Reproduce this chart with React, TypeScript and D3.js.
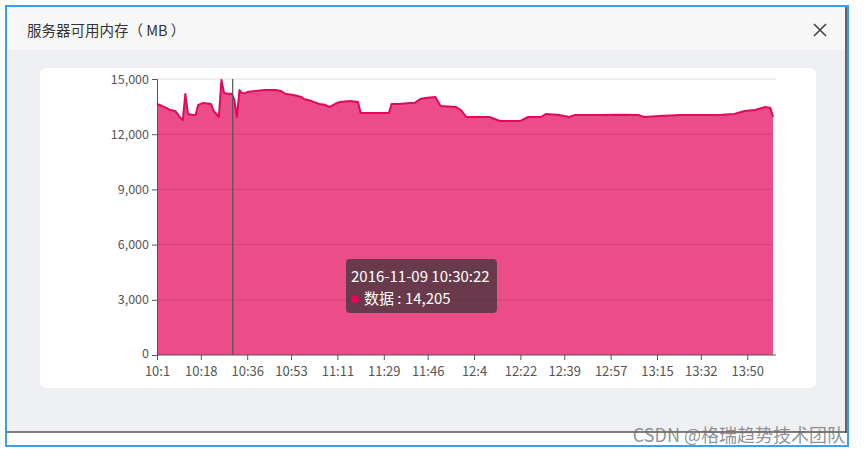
import React, { useEffect, useRef } from 'react';
import * as d3 from 'd3';

// sample times (HH:MM) and free memory values (MB)
const times: string[] = [
    '10:01', '10:03', '10:05', '10:06', '10:08', '10:09', '10:10', '10:11', '10:12', '10:13',
    '10:15', '10:16', '10:17', '10:19', '10:22', '10:23', '10:25', '10:26', '10:27', '10:29',
    '10:30', '10:31', '10:32', '10:33', '10:34', '10:35', '10:36', '10:39', '10:43', '10:47',
    '10:49', '10:51', '10:54', '10:57', '10:58', '11:01', '11:04', '11:06', '11:08', '11:10',
    '11:12', '11:16', '11:19', '11:20', '11:26', '11:31', '11:32', '11:35', '11:39', '11:41',
    '11:43', '11:45', '11:49', '11:51', '11:57', '11:59', '12:01', '12:04', '12:10', '12:14',
    '12:22', '12:25', '12:30', '12:32', '12:37', '12:41', '12:43', '12:53', '13:01', '13:08',
    '13:10', '13:16', '13:24', '13:32', '13:40', '13:45', '13:49', '13:53', '13:57', '13:59',
    '14:00'
];
const values: number[] = [
    13640, 13530, 13400, 13315, 13260, 13100, 12900, 12770, 14185, 13100,
    13040, 13060, 13590, 13700, 13640, 13260, 12935, 14950, 14240, 14185,
    14205, 13860, 12935, 14400, 14240, 14220, 14290, 14350, 14400, 14400,
    14350, 14185, 14130, 14020, 13910, 13800, 13640, 13600, 13480, 13640,
    13750, 13800, 13750, 13150, 13150, 13150, 13640, 13640, 13700, 13700,
    13900, 13970, 14020, 13530, 13480, 13300, 12935, 12935, 12935, 12720,
    12720, 12935, 12935, 13100, 13040, 12935, 13040, 13040, 13060, 13040,
    12935, 12990, 13040, 13040, 13060, 13100, 13260, 13315, 13480, 13420,
    12935
];

const xTickLabels: string[] = [
    '10:1', '10:18', '10:36', '10:53', '11:11', '11:29', '11:46',
    '12:4', '12:22', '12:39', '12:57', '13:15', '13:32', '13:50'
];
const yTicks: number[] = [0, 3000, 6000, 9000, 12000, 15000];

const toMin = (s: string) => {
    const [h, m] = s.split(':').map(Number);
    return h * 60 + m;
};

const font = '"Noto Sans CJK SC", "Noto Sans", sans-serif';

export default function App() {
    const ref = useRef<SVGSVGElement>(null);

    useEffect(() => {
        const svg = d3.select(ref.current);
        svg.selectAll('*').remove();

        const width = 865;
        const height = 452;
        const marginLeft = 157;
        const plotRight = 773;
        const plotTop = 79;
        const plotBottom = 355;

        // dialog frame
        svg.append('rect').attr('x', 0).attr('y', 0).attr('width', width).attr('height', height).attr('fill', '#fff');
        svg.append('rect').attr('x', 6).attr('y', 6).attr('width', 842).attr('height', 440)
            .attr('fill', '#fff').attr('stroke', '#3d9cf0').attr('stroke-width', 2);
        svg.append('rect').attr('x', 7).attr('y', 7).attr('width', 839).attr('height', 44).attr('fill', '#f7f7f7');
        svg.append('rect').attr('x', 7).attr('y', 50).attr('width', 839).attr('height', 382).attr('fill', '#eef0f3');
        svg.append('line').attr('x1', 7).attr('x2', 846).attr('y1', 432).attr('y2', 432)
            .attr('stroke', '#555').attr('stroke-width', 1.5);
        svg.append('line').attr('x1', 846).attr('x2', 846).attr('y1', 7).attr('y2', 433)
            .attr('stroke', '#333').attr('stroke-width', 1.5);

        svg.append('text').attr('x', 27).attr('y', 36).attr('font-size', 14.5).attr('fill', '#333')
            .attr('font-family', font).text('服务器可用内存（ MB ）');
        svg.append('path').attr('d', 'M814,24L826,36M826,24L814,36').attr('stroke', '#444').attr('stroke-width', 1.6);

        // white card
        svg.append('rect').attr('x', 40).attr('y', 68).attr('width', 776).attr('height', 320)
            .attr('rx', 6).attr('fill', '#fff');

        const x = d3.scaleLinear().domain([toMin('10:01'), toMin('14:00')]).range([marginLeft, plotRight]);
        const y = d3.scaleLinear().domain([0, 15000]).range([plotBottom, plotTop]);

        const data = times.map((t, i) => ({ t: toMin(t), v: values[i] }));

        // top gridline (above the area)
        svg.append('line').attr('x1', marginLeft).attr('x2', plotRight + 3).attr('y1', y(15000)).attr('y2', y(15000))
            .attr('stroke', '#ddd');

        const area = d3.area<{ t: number; v: number }>().x((d) => x(d.t)).y0(y(0)).y1((d) => y(d.v));
        const line = d3.line<{ t: number; v: number }>().x((d) => x(d.t)).y((d) => y(d.v));

        svg.append('path').datum(data).attr('d', area).attr('fill', '#ec4d89');
        svg.append('path').datum(data).attr('d', line).attr('fill', 'none')
            .attr('stroke', '#e2085c').attr('stroke-width', 2).attr('stroke-linejoin', 'round');

        // gridlines over the area
        svg.append('g').selectAll('line').data(yTicks.filter((d) => d > 0 && d < 15000)).join('line')
            .attr('x1', marginLeft).attr('x2', plotRight)
            .attr('y1', (d) => y(d)).attr('y2', (d) => y(d))
            .attr('stroke', 'rgba(90,20,50,0.18)');

        // y axis
        svg.append('g').attr('transform', `translate(${marginLeft},0)`)
            .call(d3.axisLeft(y).tickValues(yTicks).tickSize(5).tickPadding(3).tickFormat((d) => d3.format(',')(d as number)))
            .call((g) => g.select('.domain').attr('stroke', '#555'))
            .call((g) => g.selectAll('.tick line').attr('stroke', '#555'))
            .call((g) => g.selectAll('.tick text').attr('fill', '#555').attr('font-size', 12.5).attr('font-family', font))
            .call((g) => g.selectAll<SVGTextElement, number>('.tick text').filter((d) => d === 0).attr('dy', '0.2em'));

        // x axis
        const tickPos = xTickLabels.map((s) => toMin(s));
        svg.append('g').attr('transform', `translate(0,${plotBottom})`)
            .call(d3.axisBottom(x).tickValues(tickPos).tickSize(5).tickPadding(7)
                .tickFormat((_d, i) => xTickLabels[i]))
            .call((g) => g.select('.domain').attr('stroke', '#555').attr('d', `M${marginLeft},0H${plotRight + 3}`))
            .call((g) => g.selectAll('.tick line').attr('stroke', '#555'))
            .call((g) => g.selectAll('.tick text').attr('fill', '#555').attr('font-size', 13).attr('font-family', font));

        // hover pointer line
        const hoverT = toMin('10:30') + 22 / 60;
        svg.append('line').attr('x1', x(hoverT)).attr('x2', x(hoverT)).attr('y1', plotTop).attr('y2', plotBottom)
            .attr('stroke', '#555').attr('stroke-width', 1.2);

        // tooltip
        const tip = svg.append('g').attr('transform', 'translate(346,259)');
        tip.append('rect').attr('width', 151).attr('height', 54).attr('rx', 4).attr('fill', 'rgba(50,50,50,0.7)');
        tip.append('text').attr('x', 5).attr('y', 23).attr('fill', '#fff').attr('font-size', 15)
            .attr('font-family', font).text('2016-11-09 10:30:22');
        tip.append('circle').attr('cx', 9).attr('cy', 40).attr('r', 4).attr('fill', '#e2085c');
        tip.append('text').attr('x', 18).attr('y', 45).attr('fill', '#fff').attr('font-size', 15)
            .attr('font-family', font).text('数据 : 14,205');

        // watermark
        svg.append('text').attr('x', 845).attr('y', 442).attr('text-anchor', 'end').attr('font-size', 18)
            .attr('fill', 'rgba(110,110,110,0.75)').attr('font-family', font).text('CSDN @格瑞趋势技术团队');
    }, []);

    return (
        <div style={{ position: 'fixed', left: 0, top: 0 }}>
            <svg ref={ref} width={865} height={452} style={{ display: 'block' }} />
        </div>
    );
}
